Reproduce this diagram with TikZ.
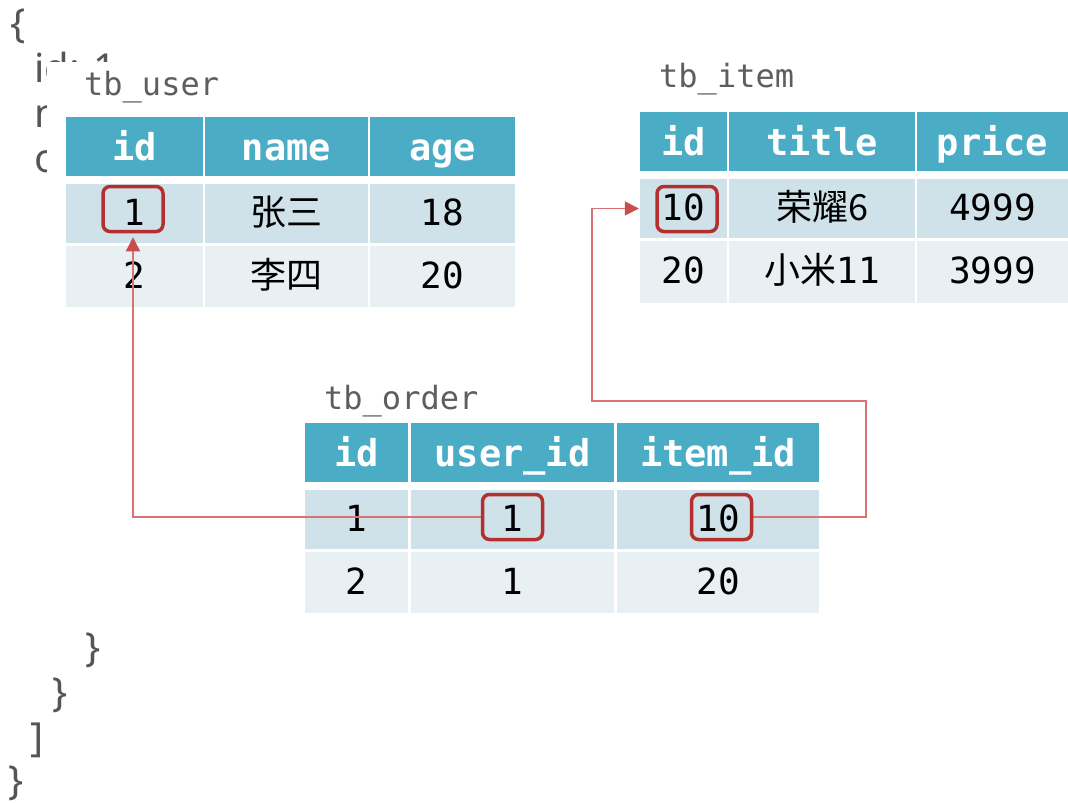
\documentclass[tikz,border=0pt]{standalone}
\usepackage{fontspec}
\usetikzlibrary{arrows.meta}
\newfontfamily\jsonf{Noto Sans}
\newfontfamily\monof{DejaVu Sans Mono}
\newfontfamily\cjkf{Noto Sans CJK SC}
\definecolor{hdr}{HTML}{4BACC6}
\definecolor{rowa}{HTML}{D0E2E9}
\definecolor{rowb}{HTML}{E8F0F3}
\definecolor{hlred}{HTML}{B3302E}
\definecolor{lnred}{HTML}{D97373}
\definecolor{arred}{HTML}{C84E4E}
\definecolor{jsongray}{HTML}{555555}
\definecolor{lblgray}{HTML}{5E5E5E}
\pgfdeclarelayer{back}
\pgfdeclarelayer{mid}
\pgfsetlayers{back,mid,main}
\newcommand\tcell[7]{\node[#6, minimum width={(#4-#2)*1pt}, minimum height={(#5-#3)*1pt}] (#1) at ({(#2+#4)/2},{(#3+#5)/2}) {#7};}
\begin{document}
\begin{tikzpicture}[x=1pt,y=-1pt,
  json/.style={anchor=base west, inner sep=0, text=jsongray, font=\jsonf\fontsize{40}{40}\selectfont},
  lbl/.style={anchor=base west, inner sep=0, text=lblgray, font=\monof\fontsize{32}{32}\selectfont},
  hcell/.style={fill=hdr, text=white, inner sep=0, text height=27pt, text depth=0pt, font=\monof\bfseries\fontsize{37}{37}\selectfont},
  acell/.style={fill=rowa, text=black, inner sep=0, text height=23pt, text depth=0pt, font=\monof\fontsize{36}{36}\selectfont},
  bcell/.style={fill=rowb, text=black, inner sep=0, text height=23pt, text depth=0pt, font=\monof\fontsize{36}{36}\selectfont},
  hl/.style={draw=hlred, line width=3.5pt, rounded corners=7pt, minimum width=60pt, minimum height=45pt, inner sep=0},
  arr/.style={draw=lnred, line width=1.6pt, -{Triangle[length=14pt,width=14pt,color=arred]}}
]
\useasboundingbox (0,0) rectangle (1068,803);
\begin{pgfonlayer}{back}
\fill[white] (0,0) rectangle (1068,803);
% background JSON text
\node[json] (j1) at (10,37) {\{};
\node[json] (j2) at (34,82) {id: 1,};
\node[json] (j3) at (34,127) {name};
\node[json] (j4) at (34,172) {orders};
\node[json] (j5) at (85,661) {\}};
\node[json] (j6) at (52,706) {\}};
\node[json] (j7) at (30,751) {]};
\node[json] (j8) at (8,794) {\}};
\fill[white] (47,62) rectangle (1068,625);
% labels
\node[lbl] (lu) at (84,95) {tb\_user};
\node[lbl] (li) at (659,87) {tb\_item};
\node[lbl] (lo) at (324,409) {tb\_order};
% tb_user
\tcell{u-h1}{66}{117}{203}{176}{hcell}{id}
\tcell{u-h2}{205}{117}{368}{176}{hcell}{name}
\tcell{u-h3}{370}{117}{515}{176}{hcell}{age}
\tcell{u-r1c1}{66}{184}{203}{243}{acell}{1}
\tcell{u-r1c2}{205}{184}{368}{243}{acell}{\cjkf 张三}
\tcell{u-r1c3}{370}{184}{515}{243}{acell}{18}
\tcell{u-r2c1}{66}{246}{203}{307}{bcell}{2}
\tcell{u-r2c2}{205}{246}{368}{307}{bcell}{\cjkf 李四}
\tcell{u-r2c3}{370}{246}{515}{307}{bcell}{20}
% tb_item
\tcell{i-h1}{640}{112}{727}{171}{hcell}{id}
\tcell{i-h2}{729}{112}{915}{171}{hcell}{title}
\tcell{i-h3}{917}{112}{1068}{171}{hcell}{price}
\tcell{i-r1c1}{640}{179}{727}{238}{acell}{10}
\tcell{i-r1c2}{729}{179}{915}{238}{acell}{\cjkf 荣耀6}
\tcell{i-r1c3}{917}{179}{1068}{238}{acell}{4999}
\tcell{i-r2c1}{640}{241}{727}{303}{bcell}{20}
\tcell{i-r2c2}{729}{241}{915}{303}{bcell}{{\cjkf 小米}11}
\tcell{i-r2c3}{917}{241}{1068}{303}{bcell}{3999}
% tb_order
\tcell{o-h1}{305}{423}{408}{482}{hcell}{id}
\tcell{o-h2}{411}{423}{614}{482}{hcell}{user\_id}
\tcell{o-h3}{617}{423}{819}{482}{hcell}{item\_id}
\tcell{o-r1c1}{305}{490}{408}{549}{acell}{1}
\tcell{o-r1c2}{411}{490}{614}{549}{acell}{1}
\tcell{o-r1c3}{617}{490}{819}{549}{acell}{10}
\tcell{o-r2c1}{305}{552}{408}{613}{bcell}{2}
\tcell{o-r2c2}{411}{552}{614}{613}{bcell}{1}
\tcell{o-r2c3}{617}{552}{819}{613}{bcell}{20}
\end{pgfonlayer}
% highlight boxes
\node[hl] (hlu) at (133,209) {};
\node[hl] (hli) at (687,209) {};
\node[hl] (hlou) at (512.5,517) {};
\node[hl] (hloi) at (721.5,517) {};
\coordinate (k1) at (866,401);
\coordinate (k2) at (592,401);
\begin{pgfonlayer}{mid}
\draw[arr] (hlou.west) -| ([yshift=-4pt]hlu.south);
\draw[arr] (hloi.east) -| (k1) -- (k2) |- ([xshift=-1pt]i-r1c1.west);
\end{pgfonlayer}
\end{tikzpicture}
\end{document}
